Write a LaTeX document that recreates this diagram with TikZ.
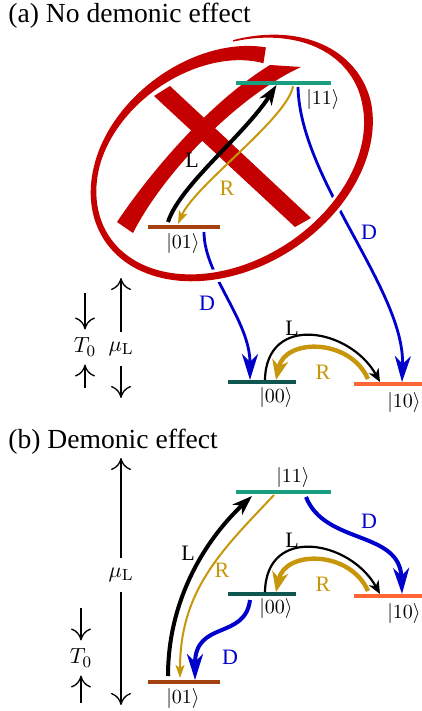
\documentclass[tikz,border=0pt]{standalone}
\usepackage[no-math]{fontspec}
\setmainfont{Liberation Serif}
\usetikzlibrary{arrows.meta,calc}
\definecolor{lvElev}{HTML}{1A9E80}
\definecolor{lvZero}{HTML}{0F5650}
\definecolor{lvTen}{HTML}{FF6633}
\definecolor{lvOne}{HTML}{A5400F}
\definecolor{gld}{HTML}{C8960A}
\definecolor{blu}{HTML}{0000CC}
\definecolor{redx}{HTML}{C40000}
\begin{document}
\begin{tikzpicture}[x=1pt, y=-1pt, scale=.5,
    lev/.style={rectangle, inner sep=0pt, minimum height=2.2pt},
    ket/.style={inner sep=0pt},
    lab/.style={font=\fontsize{11}{13}\selectfont, inner sep=0pt},
    ttl/.style={font=\fontsize{13.8}{16}\selectfont, inner sep=0pt, anchor=base west},
    scl/.style={line width=.65pt, -{To[length=6pt,width=10pt]}},
    Lthick/.style={line width=2pt, -{Stealth[length=10pt,width=7pt,inset=3pt]}},
    Lthin/.style={line width=1.1pt, -{Stealth[length=6.5pt,width=5.5pt,inset=2pt]}},
    Rthick/.style={gld, line width=2.2pt, -{Stealth[length=10pt,width=8pt,inset=3pt]}},
    Rthin/.style={gld, line width=1pt, -{Stealth[length=6.5pt,width=4.5pt,inset=1.5pt]}},
    Dec/.style={blu, -{Stealth[length=13pt,width=8pt,inset=4pt]}},
    declare function={
      rr(\s)=1.01-0.16*(max(\s-280,0)/96)^2;
      mm(\s)=max(\s-280,0)/96;
      ww(\s)=(\s<80)*(1.5+7.5*\s/80)+(\s>=80)*(\s<280)*(9-3.5*(\s-80)/200)+(\s>=280)*(5.5+10.5*mm(\s)*sqrt(mm(\s)));
      exx(\s,\d)=231+(147*rr(\s)+\d)*cos(64-\s)*0.8387-(106*rr(\s)+\d)*sin(64-\s)*0.5446;
      eyy(\s,\d)=157-((147*rr(\s)+\d)*cos(64-\s)*0.5446+(106*rr(\s)+\d)*sin(64-\s)*0.8387);
    }]
\useasboundingbox (0,0) rectangle (422,711);

% (a) no demonic effect
\node[ttl] (ttla) at (8,23) {(a) No demonic effect};
% red cross
\fill[redx] (154,96) -- (170,86) -- (311,218) -- (295,227) -- cycle;
\fill[redx] (117,222) .. controls (145,180) and (205,105) .. (270,65) -- (301,67)
  .. controls (240,95) and (165,170) .. (133,233) -- cycle;

\node[lev, fill=lvElev, minimum width=47.5pt] (a11) at (283.5,83) {};
\node[lev, fill=lvOne, minimum width=36pt] (a01) at (184,227) {};
\node[lev, fill=lvZero, minimum width=34pt] (a00) at (262,382) {};
\node[lev, fill=lvTen, minimum width=34pt] (a10) at (388,384) {};
\node[ket] (ka11) at (323,100) {$|11\rangle$};
\node[ket] (ka01) at (183,244) {$|01\rangle$};
\node[ket] (ka00) at (276,397) {$|00\rangle$};
\node[ket] (ka10) at (404,402) {$|10\rangle$};

\draw[Lthick] ($(a01)+(-16,-5)$) .. controls +(12,-37) and +(-32,50) .. ($(a11)+(-7,2)$);
\draw[Rthin] ($(a11)+(9.5,3)$) .. controls +(-5,32) and +(17,-39) .. ($(a01)+(-6,-3)$);
\draw[Dec, line width=1.4pt] ($(a11)+(14.5,4)$) .. controls +(2,93) and +(3,-92) .. ($(a10)+(14,-2)$);
\draw[Dec, line width=1.4pt] ($(a01)+(20,5)$) .. controls +(0,43) and +(0,-60) .. ($(a00)+(-12,-2)$);
\draw[Lthin] ($(a00)+(3,-2)$) .. controls +(1,-67) and +(-30,-54) .. ($(a10)+(-8,-2)$);
\draw[Rthick] ($(a10)+(-20,-5)$) .. controls +(-18,-41) and +(9,-42) .. ($(a00)+(14,-2)$);
\node[lab] (la1) at (192,160) {L};
\node[lab, gld] (ra1) at (227,188) {R};
\node[lab, blu] (da1) at (369,232) {D};
\node[lab, blu] (da2) at (207,303) {D};
\node[lab] (la2) at (292,328) {L};
\node[lab, gld] (ra2) at (323,372) {R};

% red ring, with a white edge over the D lines
\fill[white] plot[domain=0:376, samples=160, variable=\s] ({exx(\s,ww(\s)/2+3)},{eyy(\s,ww(\s)/2+3)})
  -- plot[domain=376:0, samples=160, variable=\s] ({exx(\s,-ww(\s)/2-3)},{eyy(\s,-ww(\s)/2-3)}) -- cycle;
\fill[redx] plot[domain=0:376, samples=160, variable=\s] ({exx(\s,ww(\s)/2)},{eyy(\s,ww(\s)/2)})
  -- plot[domain=376:0, samples=160, variable=\s] ({exx(\s,-ww(\s)/2)},{eyy(\s,-ww(\s)/2)}) -- cycle;

\node[lab, inner ysep=5pt] (mua) at (121,349) {$\mu_{\rm L}$};
\coordinate (muat) at (121,278);
\coordinate (muab) at (121,398);
\draw[scl] (mua) -- (muat);
\draw[scl] (mua) -- (muab);
\node[lab, inner ysep=4pt] (ta) at (85,347) {$T_0$};
\coordinate (tat) at (85,293);
\coordinate (tab) at (85,388);
\draw[scl] (tat) -- (ta);
\draw[scl] (tab) -- (ta);

% (b) demonic effect
\node[ttl] (ttlb) at (8,448) {(b) Demonic effect};
\node[lev, fill=lvElev, minimum width=47.5pt] (b11) at (283.5,492) {};
\node[lev, fill=lvZero, minimum width=34pt] (b00) at (262,594) {};
\node[lev, fill=lvTen, minimum width=34pt] (b10) at (388,596) {};
\node[lev, fill=lvOne, minimum width=36pt] (b01) at (184,682) {};
\node[ket] (kb11) at (293,477) {$|11\rangle$};
\node[ket] (kb00) at (276,608) {$|00\rangle$};
\node[ket] (kb10) at (404,613) {$|10\rangle$};
\node[ket] (kb01) at (183,698) {$|01\rangle$};

\draw[Lthick] ($(b01)+(-16,-6)$) .. controls +(0,-76) and +(-47,44) .. ($(b11)+(-31.5,4)$);
\draw[Rthin] ($(b11)+(-9.5,3)$) .. controls +(-52,55) and +(0,-88) .. ($(b01)+(-4,-4)$);
\draw[Dec, line width=2pt] ($(b11)+(22.5,5)$) .. controls +(19,48) and +(-2,-64) .. ($(b10)+(14,-2)$);
\draw[Dec, line width=2pt] ($(b00)+(-12,6)$) .. controls +(-5,40) and +(0,-60) .. ($(b01)+(11,-2)$);
\draw[Lthin] ($(b00)+(3,-2)$) .. controls +(1,-67) and +(-30,-54) .. ($(b10)+(-8,-2)$);
\draw[Rthick] ($(b10)+(-20,-5)$) .. controls +(-18,-41) and +(9,-42) .. ($(b00)+(14,-2)$);
\node[lab] (lb1) at (188,553) {L};
\node[lab, gld] (rb1) at (222,570) {R};
\node[lab, blu] (db1) at (369,521) {D};
\node[lab, blu] (db2) at (230,657) {D};
\node[lab] (lb2) at (292,540) {L};
\node[lab, gld] (rb2) at (323,584) {R};

\node[lab, inner ysep=5pt] (mub) at (121,575) {$\mu_{\rm L}$};
\coordinate (mubt) at (121,458);
\coordinate (mubb) at (121,705);
\draw[scl] (mub) -- (mubt);
\draw[scl] (mub) -- (mubb);
\node[lab, inner ysep=4pt] (tb) at (81,658) {$T_0$};
\coordinate (tbt) at (81,608);
\coordinate (tbb) at (81,703);
\draw[scl] (tbt) -- (tb);
\draw[scl] (tbb) -- (tb);
\end{tikzpicture}
\end{document}
